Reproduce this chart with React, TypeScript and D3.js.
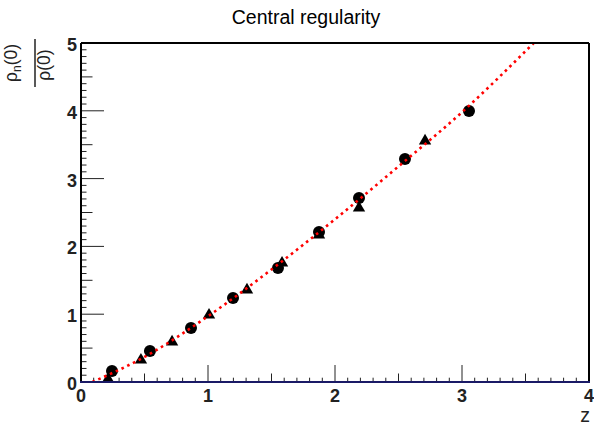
import React from "react";
import * as d3 from "d3";

// chart values
const circleZ = [0.244, 0.543, 0.866, 1.197, 1.551, 1.874, 2.189, 2.551, 3.055];
const circleRho = [0.162, 0.457, 0.796, 1.239, 1.681, 2.212, 2.714, 3.289, 3.997];
const triangleZ = [0.213, 0.472, 0.717, 1.008, 1.307, 1.583, 1.874, 2.189, 2.709];
const triangleRho = [0.044, 0.324, 0.59, 0.988, 1.357, 1.755, 2.168, 2.566, 3.555];
const fitZ = [0.09, 0.5, 1.0, 1.5, 2.0, 2.5, 3.0, 3.565];
const fitRho = [0, 0.37, 0.97, 1.66, 2.4, 3.18, 3.98, 5.0];
const xTickLabels = ["0", "1", "2", "3", "4"];
const yTickLabels = ["0", "1", "2", "3", "4", "5"];

const width = 594;
const height = 428;
const frame = { left: 81, right: 589, top: 43, bottom: 382 };
const font = "'Liberation Sans', Arial, Helvetica, sans-serif";

const App = () => {
  const x = d3.scaleLinear().domain([0, 4]).range([frame.left, frame.right]);
  const y = d3.scaleLinear().domain([0, 5]).range([frame.bottom, frame.top]);

  const fitLine = d3
    .line<number>()
    .x((d) => x(d))
    .y((d, i) => y(fitRho[i]))
    .curve(d3.curveMonotoneX);

  const tri = d3.symbol().type(d3.symbolTriangle).size(66)();

  // tick kind: 0 major, 1 half, 2 minor
  const kind = (v: number) => {
    const t = Math.round(v * 10);
    if (t % 10 === 0) return 0;
    if (t % 5 === 0) return 1;
    return 2;
  };
  const xLen = [17, 8.5, 4.3];
  const yLen = [23, 11.5, 5.5];

  return (
    <svg
      width={width}
      height={height}
      style={{ position: "absolute", left: 0, top: 0, background: "#fff" }}
    >
      <defs>
        <clipPath id="plotClip">
          <rect
            x={frame.left}
            y={frame.top}
            width={frame.right - frame.left}
            height={frame.bottom - frame.top}
          />
        </clipPath>
      </defs>

      <text
        x={306}
        y={24}
        textAnchor="middle"
        fontFamily={font}
        fontSize={19.5}
        fill="#000"
      >
        Central regularity
      </text>

      {/* ticks */}
      {x.ticks(40).map((v) => (
        <line
          key={"xt" + v}
          x1={x(v)}
          x2={x(v)}
          y1={frame.bottom}
          y2={frame.bottom - xLen[kind(v)]}
          stroke="#222"
          strokeWidth={1}
        />
      ))}
      {y.ticks(50).map((v) => (
        <line
          key={"yt" + v}
          x1={frame.left}
          x2={frame.left + yLen[kind(v)]}
          y1={y(v)}
          y2={y(v)}
          stroke="#222"
          strokeWidth={1}
        />
      ))}

      {/* data */}
      <g clipPath="url(#plotClip)">
        {circleZ.map((z, i) => (
          <circle key={"c" + i} cx={x(z)} cy={y(circleRho[i])} r={6} fill="#000" />
        ))}
        {triangleZ.map((z, i) => (
          <path
            key={"t" + i}
            d={tri || ""}
            transform={`translate(${x(z)},${y(triangleRho[i])})`}
            fill="#000"
          />
        ))}
        <path
          d={fitLine(fitZ) || ""}
          fill="none"
          stroke="#ff0000"
          strokeWidth={2.6}
          strokeDasharray="2.6 3.8"
        />
      </g>

      {/* frame */}
      <line x1={frame.left} x2={frame.right} y1={frame.top} y2={frame.top} stroke="#000" strokeWidth={2} />
      <line x1={frame.right} x2={frame.right} y1={frame.top} y2={frame.bottom} stroke="#000" strokeWidth={2} />
      <line x1={frame.left} x2={frame.left} y1={frame.top} y2={frame.bottom} stroke="#000" strokeWidth={2} />
      <line x1={frame.left - 1} x2={frame.right + 1} y1={frame.bottom} y2={frame.bottom} stroke="#1a1a66" strokeWidth={2} />

      {/* tick labels */}
      {xTickLabels.map((t, i) => (
        <text
          key={"xl" + t}
          x={x(i)}
          y={402}
          textAnchor="middle"
          fontFamily={font}
          fontWeight="bold"
          fontSize={18}
          fill="#222"
        >
          {t}
        </text>
      ))}
      {yTickLabels.map((t, i) => (
        <text
          key={"yl" + t}
          x={77}
          y={y(i) + 8}
          textAnchor="end"
          fontFamily={font}
          fontWeight="bold"
          fontSize={18}
          fill="#222"
        >
          {t}
        </text>
      ))}

      {/* axis titles */}
      <text
        x={590}
        y={422}
        textAnchor="end"
        fontFamily={font}
        fontSize={19.5}
        fill="#222"
      >
        z
      </text>
      <g transform="translate(35,63) rotate(-90)" fontFamily={font} fontSize={17.5} fill="#222">
        <text x={0} y={-18} textAnchor="middle">
          ρ<tspan fontSize={12} dy={4}>n</tspan>
          <tspan dy={-4}>(0)</tspan>
        </text>
        <line x1={-24} x2={24} y1={0} y2={0} stroke="#222" strokeWidth={1.5} />
        <text x={-2} y={15} textAnchor="middle">
          ρ(0)
        </text>
      </g>
    </svg>
  );
};

export default App;
